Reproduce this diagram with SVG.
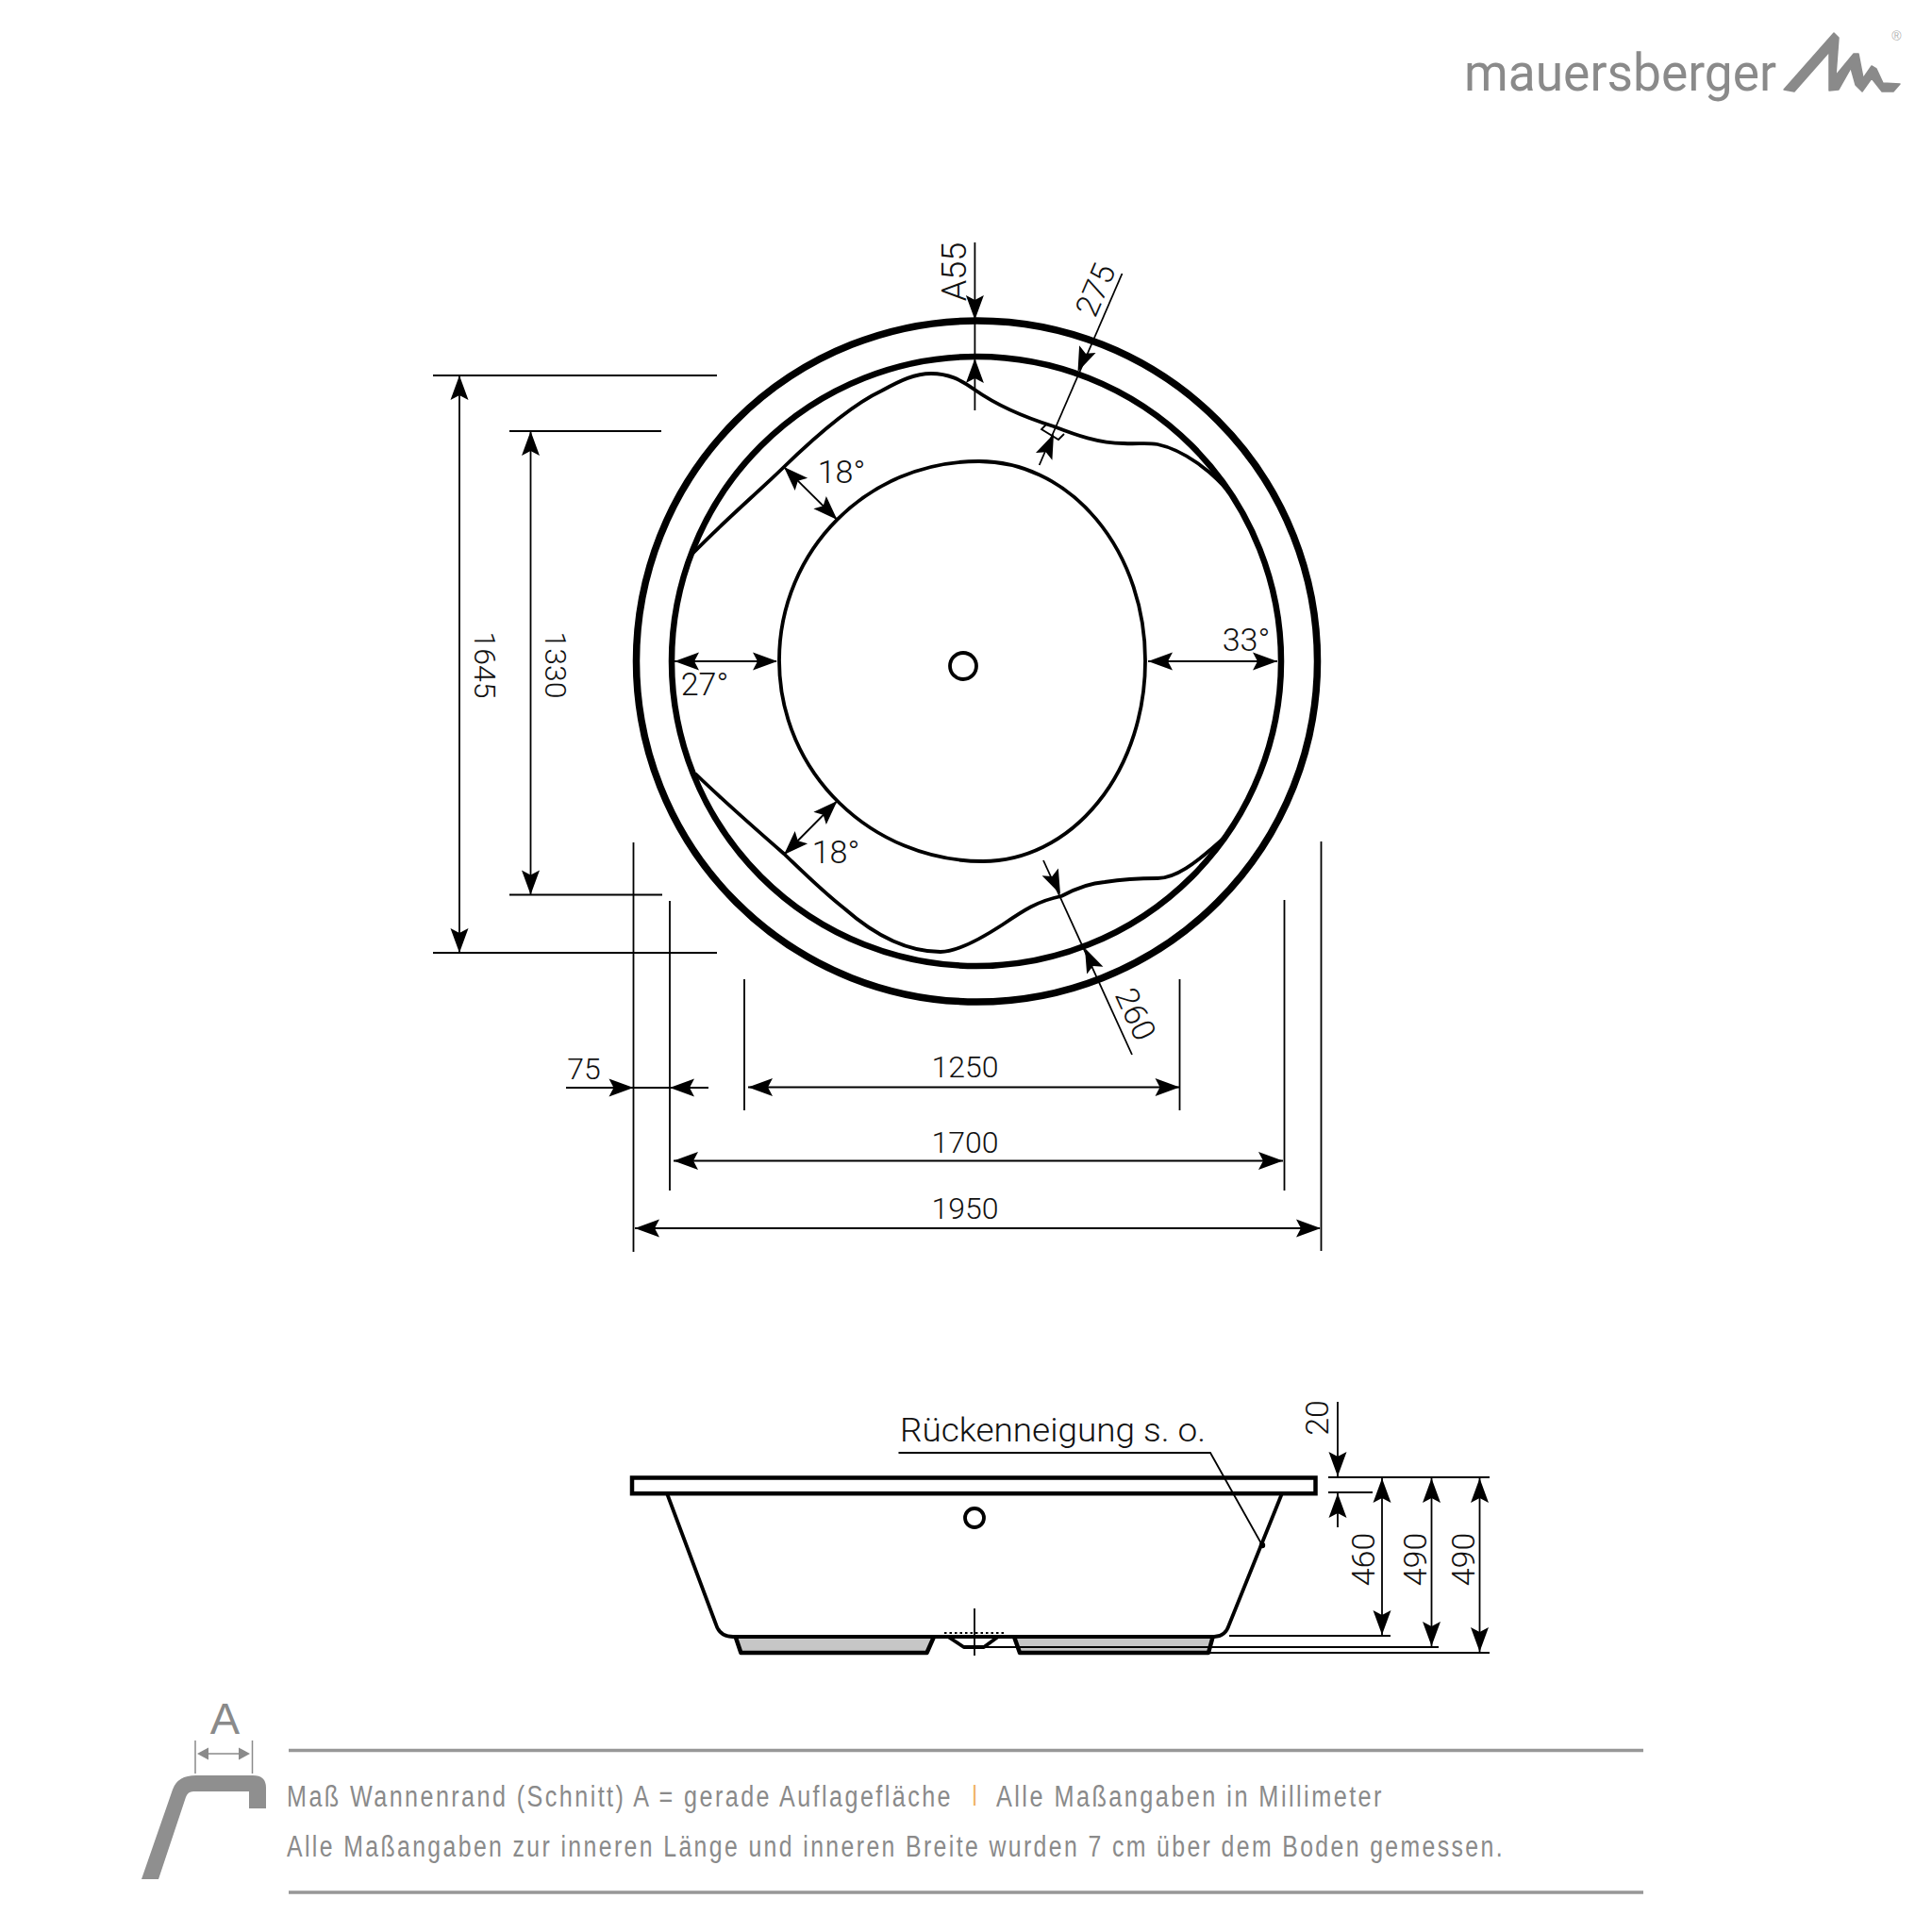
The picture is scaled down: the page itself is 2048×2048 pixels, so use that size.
<svg xmlns="http://www.w3.org/2000/svg" xmlns:xlink="http://www.w3.org/1999/xlink" width="2048" height="2048" viewBox="0 0 2048 2048">
<style>
.t{font-family:"Roboto","Liberation Sans",sans-serif;font-weight:300;font-size:32px;fill:#111;text-anchor:middle}
.b{font-size:34px}
.th{fill:none;stroke:#000;stroke-width:1.8}
.ring{fill:none;stroke:#000;stroke-width:7.5}
.sh{fill:none;stroke:#000;stroke-width:3.8;stroke-linejoin:round}
.g{font-family:"Liberation Sans",sans-serif;fill:#8a8a8a}
.leg{font-size:31px;letter-spacing:3px}
.rule{stroke:#979797;stroke-width:3.5}
</style>
<defs>
<path id="ah" d="M0,0L-26,-9.5L-21,0L-26,9.5Z" fill="#000"/>
<path id="ahg" d="M0,0L-12,-6.5L-12,6.5Z" fill="#8a8a8a"/>
</defs>
<rect width="2048" height="2048" fill="#fff"/>

<g id="logo">
<text class="g" x="1552" y="96" font-size="55" textLength="331" lengthAdjust="spacingAndGlyphs" style="font-family:'Roboto','Liberation Sans',sans-serif;font-weight:400">mauersberger</text>
<path d="M1891,95L1944,35L1949,40L1946,80L1965,57L1970,57L1975,83L1984,70L1989,73L1996,88L2014,89L2007,97L1995,97L1984,83L1974,97L1967,90L1962,72L1949,95L1939,96L1939,55L1902,97Z" fill="#8a8a8a" stroke="#8a8a8a" stroke-width="1.5" stroke-linejoin="round"/>
<text class="g" x="2010.5" y="43" font-size="14" text-anchor="middle" fill-opacity=".7">®</text>
</g>

<g id="plan">
<circle class="ring" cx="1035.5" cy="701" r="361"/>
<circle class="ring" cx="1035" cy="701" r="323" style="stroke-width:6.5"/>
<path class="sh" d="M1037,489A176,211 0 0 1 1214,700A172,212 0 0 1 1042,913C925,913 826,820 826,700C826,583 920,489 1037,489Z"/>
<ellipse class="sh" cx="1021" cy="706" rx="14" ry="14"/>
<path class="sh" d="M734,587C768,552 800,525 831,495C865,462 905,428 935,414C955,403 970,396 987,396C1005,396 1018,402 1033,413C1060,432 1088,443 1117,452C1140,461 1165,470 1191,470C1205,471 1215,469 1227,471C1255,477 1285,500 1303,522"/>
<path class="sh" d="M737,820C768,850 800,878 831,905C855,928 872,945 895,963C920,985 955,1009 997,1009C1015,1009 1040,995 1063,980C1085,965 1100,955 1125,950C1140,942 1155,936 1171,935C1190,932 1210,931 1227,931C1245,931 1265,918 1301,885"/>
</g>

<g id="section">
<rect x="670" y="1566.5" width="724.5" height="16.7" fill="none" stroke="#000" stroke-width="4.5"/>
<path d="M780,1736L785.4,1752L982.5,1752L989,1736Z" fill="#c6c6c6" stroke="none"/>
<path d="M1075,1736L1081,1752L1281,1752L1285.4,1736Z" fill="#c6c6c6" stroke="none"/>
<path d="M1078,1746H1283" stroke="#888" stroke-width="1.5" fill="none"/>
<path class="sh" d="M707,1583L759,1722Q763,1735 777,1735L1287,1735Q1299,1735 1303,1722L1359,1583"/>
<path class="sh" d="M780,1736L785.4,1752L982.5,1752L990,1735" style="stroke-width:4.5"/>
<path class="sh" d="M1075,1735L1081,1752L1281,1752L1285.4,1736" style="stroke-width:4.5"/>
<path class="sh" d="M1005,1735L1021.7,1746L1043,1746L1058,1735"/>
<ellipse class="sh" cx="1033" cy="1609" rx="10" ry="10"/>
<path d="M1001,1731H1065" stroke="#000" stroke-width="2" stroke-dasharray="2.5 3" fill="none"/>
</g>

<g id="connectors">
<path class="th" d="M1033.4,257V435"/>
<use xlink:href="#ah" href="#ah" transform="translate(1033.4,339) rotate(90)"/>
<use xlink:href="#ah" href="#ah" transform="translate(1033.4,380) rotate(-90)"/>
<path class="th" d="M1189.5,290L1101.7,493"/>
<use xlink:href="#ah" href="#ah" transform="translate(1142.5,394) rotate(113.4)"/>
<use xlink:href="#ah" href="#ah" transform="translate(1117,460) rotate(-66.6)"/>
<path class="th" d="M1110,449L1104,455L1122,466L1128,460"/>
<path class="th" d="M1106,912L1200,1118"/>
<use xlink:href="#ah" href="#ah" transform="translate(1124,948) rotate(65.5)"/>
<use xlink:href="#ah" href="#ah" transform="translate(1150,1005) rotate(-114.5)"/>
<path class="th" d="M831,495L887.5,551"/>
<use xlink:href="#ah" href="#ah" transform="translate(831,495) rotate(-135)"/>
<use xlink:href="#ah" href="#ah" transform="translate(887.5,551) rotate(45)"/>
<path class="th" d="M887.5,849L831,906"/>
<use xlink:href="#ah" href="#ah" transform="translate(887.5,849) rotate(-45)"/>
<use xlink:href="#ah" href="#ah" transform="translate(831,906) rotate(135)"/>
<path class="th" d="M715,701H823"/>
<use xlink:href="#ah" href="#ah" transform="translate(715,701) rotate(180)"/>
<use xlink:href="#ah" href="#ah" transform="translate(824,701)"/>
<path class="th" d="M1217,701H1354"/>
<use xlink:href="#ah" href="#ah" transform="translate(1217,701) rotate(180)"/>
<use xlink:href="#ah" href="#ah" transform="translate(1354,701)"/>
<path class="th" d="M459,398H760M459,1010H760M487,398V1010"/>
<use xlink:href="#ah" href="#ah" transform="translate(487,398) rotate(-90)"/>
<use xlink:href="#ah" href="#ah" transform="translate(487,1010) rotate(90)"/>
<path class="th" d="M540,457H701M540,948.5H702M562.5,457V948.5"/>
<use xlink:href="#ah" href="#ah" transform="translate(562.5,457) rotate(-90)"/>
<use xlink:href="#ah" href="#ah" transform="translate(562.5,948.5) rotate(90)"/>
<path class="th" d="M671.5,893V1327M710,955V1262M789,1038V1177M1250.5,1038V1177M1361.5,954V1262M1400.5,892V1326"/>
<path class="th" d="M600,1153H751"/>
<use xlink:href="#ah" href="#ah" transform="translate(671.5,1153)"/>
<use xlink:href="#ah" href="#ah" transform="translate(710,1153) rotate(180)"/>
<path class="th" d="M793,1152.5H1250"/>
<use xlink:href="#ah" href="#ah" transform="translate(793,1152.5) rotate(180)"/>
<use xlink:href="#ah" href="#ah" transform="translate(1250.5,1152.5)"/>
<path class="th" d="M714,1230.5H1360"/>
<use xlink:href="#ah" href="#ah" transform="translate(714,1230.5) rotate(180)"/>
<use xlink:href="#ah" href="#ah" transform="translate(1360,1230.5)"/>
<path class="th" d="M673,1302H1399"/>
<use xlink:href="#ah" href="#ah" transform="translate(673,1302) rotate(180)"/>
<use xlink:href="#ah" href="#ah" transform="translate(1400,1302)"/>
<path class="th" d="M1408,1566H1579M1408,1582H1455M1303,1734H1474M1043,1746H1525M1281,1752H1579M1033,1705V1755"/>
<path class="th" d="M1418,1486V1565M1418,1583V1619"/>
<use xlink:href="#ah" href="#ah" transform="translate(1418,1565) rotate(90)"/>
<use xlink:href="#ah" href="#ah" transform="translate(1418,1583) rotate(-90)"/>
<path class="th" d="M1465,1566V1734"/>
<use xlink:href="#ah" href="#ah" transform="translate(1465,1567) rotate(-90)"/>
<use xlink:href="#ah" href="#ah" transform="translate(1465,1733) rotate(90)"/>
<path class="th" d="M1517.5,1566V1746"/>
<use xlink:href="#ah" href="#ah" transform="translate(1517.5,1567) rotate(-90)"/>
<use xlink:href="#ah" href="#ah" transform="translate(1517.5,1745) rotate(90)"/>
<path class="th" d="M1568.5,1566V1752"/>
<use xlink:href="#ah" href="#ah" transform="translate(1568.5,1567) rotate(-90)"/>
<use xlink:href="#ah" href="#ah" transform="translate(1568.5,1751) rotate(90)"/>
<path class="th" d="M952.5,1540H1283L1338,1638"/>
<circle cx="1338" cy="1638" r="3.2" fill="#000"/>
</g>

<g id="labels">
<text class="t" style="font-size:36px" transform="translate(1024,288) rotate(-90)">A55</text>
<text class="t b" transform="translate(1172,312) rotate(-66.6)">275</text>
<text class="t b" transform="translate(1193,1080) rotate(65.5)">260</text>
<text class="t b" x="892" y="512">18°</text>
<text class="t b" x="886" y="915">18°</text>
<text class="t b" x="747" y="737">27°</text>
<text class="t b" x="1321" y="690">33°</text>
<text class="t" transform="translate(502.5,705) rotate(90)">1645</text>
<text class="t" transform="translate(577.5,705) rotate(90)">1330</text>
<text class="t" x="619" y="1144">75</text>
<text class="t" x="1023" y="1142">1250</text>
<text class="t" x="1023" y="1222">1700</text>
<text class="t" x="1023" y="1292">1950</text>
<text class="t b" transform="translate(1408,1503) rotate(-90)">20</text>
<text class="t b" transform="translate(1457,1653) rotate(-90)">460</text>
<text class="t b" transform="translate(1512,1653) rotate(-90)">490</text>
<text class="t b" transform="translate(1563,1653) rotate(-90)">490</text>
<text class="t" x="954" y="1528" style="text-anchor:start;font-size:35.5px" textLength="324" lengthAdjust="spacingAndGlyphs">Rückenneigung s. o.</text>
</g>

<g id="legend">
<path d="M150,1992L168,1992L197,1905Q199,1899 205,1899L264,1899L264,1917L282,1917L282,1895Q282,1882 268,1882L208,1882Q188,1882 183,1897Z" fill="#8f8f8f"/>
<path d="M207,1845V1880M267.5,1845V1880" stroke="#8a8a8a" stroke-width="1.5" fill="none"/>
<path d="M212,1859H262" stroke="#8a8a8a" stroke-width="1.5" fill="none"/>
<use xlink:href="#ahg" href="#ahg" transform="translate(209,1859) rotate(180)"/>
<use xlink:href="#ahg" href="#ahg" transform="translate(265,1859)"/>
<text class="g" x="238.5" y="1838" font-size="47" text-anchor="middle">A</text>
<path class="rule" d="M306,1855.5H1742M306,2006H1742"/>
<text class="g leg" x="304" y="1915" textLength="706" lengthAdjust="spacingAndGlyphs">Maß Wannenrand (Schnitt) A = gerade Auflagefläche</text>
<text class="g" x="1033" y="1909" font-size="24" text-anchor="middle" style="fill:#efb15f">|</text>
<text class="g leg" x="1056" y="1915" textLength="411" lengthAdjust="spacingAndGlyphs">Alle Maßangaben in Millimeter</text>
<text class="g leg" x="304" y="1968" textLength="1291" lengthAdjust="spacingAndGlyphs">Alle Maßangaben zur inneren Länge und inneren Breite wurden 7 cm über dem Boden gemessen.</text>
</g>
</svg>
